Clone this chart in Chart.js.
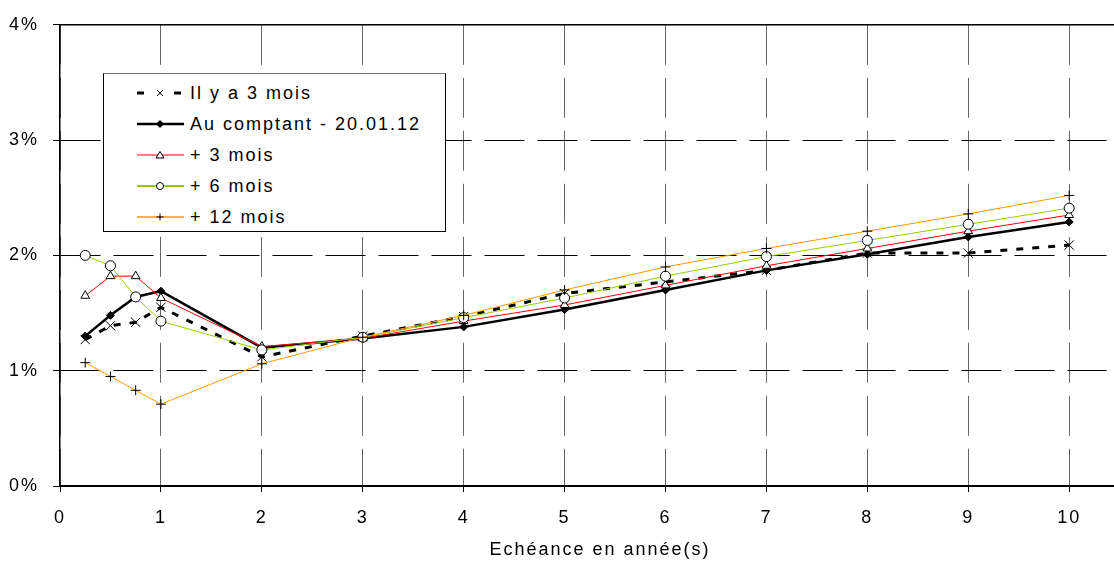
<!DOCTYPE html>
<html>
<head>
<meta charset="utf-8">
<script src="https://cdn.jsdelivr.net/npm/chart.js@4"></script>
<style>
  body { margin: 0; background: #fff; }
  #wrap { position: relative; width: 1114px; height: 563px; }
  #legend {
    position: absolute; left: 103px; top: 73px; width: 341px; height: 157px;
    border: 1px solid #000; border-top-color: #777; background: #fff;
    font: 18px "Liberation Sans", Arial, sans-serif; letter-spacing: 2px; color: #000;
  }
  .row { position: absolute; left: 0; width: 340px; height: 24px; }
  .row svg { position: absolute; left: 32px; top: 6px; }
  .row span { position: absolute; left: 86px; top: 0; line-height: 24px; white-space: nowrap; }
  #xtitle {
    position: absolute; left: 400px; width: 400px; top: 539px; line-height: 22px; text-align: center;
    font: 18px "Liberation Sans", Arial, sans-serif; letter-spacing: 2px; color: #000;
  }
</style>
</head>
<body>
<div id="wrap">
  <canvas id="curve" width="1114" height="563"></canvas>
  <div id="xtitle">Echéance en année(s)</div>
  <div id="legend">
    <div class="row" style="top:7px">
      <svg width="50" height="12"><line x1="1" y1="6" x2="8" y2="6" stroke="#000" stroke-width="3"/><path d="M21 3 L27 9 M27 3 L21 9" stroke="#000" stroke-width="1"/><line x1="38" y1="6" x2="45" y2="6" stroke="#000" stroke-width="3"/></svg>
      <span>Il y a 3 mois</span>
    </div>
    <div class="row" style="top:38px">
      <svg width="50" height="12"><line x1="1" y1="6" x2="48" y2="6" stroke="#000" stroke-width="2.5"/><path d="M24 2 L28 6 L24 10 L20 6 Z" fill="#000"/></svg>
      <span>Au comptant - 20.01.12</span>
    </div>
    <div class="row" style="top:69px">
      <svg width="50" height="12"><line x1="1" y1="6" x2="48" y2="6" stroke="#ff0000" stroke-width="1"/><path d="M24 2.5 L28 9 L20 9 Z" fill="#fff" stroke="#000" stroke-width="1"/></svg>
      <span>+ 3 mois</span>
    </div>
    <div class="row" style="top:100px">
      <svg width="50" height="12"><line x1="1" y1="6" x2="48" y2="6" stroke="#99cc00" stroke-width="2"/><circle cx="24" cy="6" r="3.5" fill="#fff" stroke="#000" stroke-width="1"/></svg>
      <span>+ 6 mois</span>
    </div>
    <div class="row" style="top:131px">
      <svg width="50" height="12"><line x1="1" y1="6" x2="48" y2="6" stroke="#ff9900" stroke-width="1.5"/><path d="M24 2.5 L24 9.5 M20.5 6 L27.5 6" stroke="#000" stroke-width="1"/></svg>
      <span>+ 12 mois</span>
    </div>
  </div>
</div>
<script>
// maturities in years
const maturities = [0.25, 0.5, 0.75, 1, 2, 3, 4, 5, 6, 7, 8, 9, 10];

// rates in %
const ilYa3Mois = [1.27, 1.39, 1.42, 1.55, 1.12, 1.30, 1.47, 1.67, 1.77, 1.87, 2.02, 2.02, 2.09];
const auComptant = [1.30, 1.48, 1.64, 1.69, 1.20, 1.28, 1.38, 1.53, 1.70, 1.87, 2.01, 2.16, 2.29];
const plus3Mois = [1.65, 1.82, 1.82, 1.63, 1.21, 1.28, 1.43, 1.57, 1.74, 1.91, 2.06, 2.21, 2.35];
const plus6Mois = [2.00, 1.91, 1.64, 1.43, 1.18, 1.29, 1.46, 1.63, 1.82, 1.99, 2.13, 2.27, 2.41];
const plus12Mois = [1.07, 0.95, 0.83, 0.71, 1.06, 1.29, 1.48, 1.70, 1.90, 2.06, 2.21, 2.36, 2.52];

const xTicks = [0, 1, 2, 3, 4, 5, 6, 7, 8, 9, 10];
const yTicks = [0, 1, 2, 3, 4];

const FONT = '"Liberation Sans", Arial, sans-serif';

function pts(values) {
  return values.map((v, i) => ({ x: maturities[i], y: v }));
}

// letter spacing for axis text + solid frame lines running to the right edge
const extras = {
  id: 'extras',
  beforeLayout(chart) { chart.ctx.letterSpacing = '2px'; },
  beforeDraw(chart) { chart.ctx.letterSpacing = '2px'; },
  afterDraw(chart) {
    const ctx = chart.ctx, a = chart.chartArea;
    ctx.save();
    ctx.strokeStyle = '#000';
    ctx.lineWidth = 1.5;
    ctx.beginPath();
    ctx.moveTo(a.left, a.top);
    ctx.lineTo(1114, a.top);
    ctx.stroke();
    ctx.lineWidth = 2;
    ctx.beginPath();
    ctx.moveTo(a.right - 2, Math.round(a.bottom));
    ctx.lineTo(1114, Math.round(a.bottom));
    ctx.stroke();
    ctx.restore();
  }
};

const ctx = document.getElementById('curve').getContext('2d');
const chart = new Chart(ctx, {
  type: 'line',
  data: {
    datasets: [
      {
        label: 'Il y a 3 mois', data: pts(ilYa3Mois), order: 5,
        borderColor: '#000', borderWidth: 3, borderDash: [7, 9],
        pointStyle: 'crossRot', pointRadius: 6.5, pointBorderColor: '#000', pointBorderWidth: 1
      },
      {
        label: 'Au comptant - 20.01.12', data: pts(auComptant), order: 4,
        borderColor: '#000', borderWidth: 2.5,
        pointStyle: 'rectRot', pointRadius: 4, pointBackgroundColor: '#000', pointBorderColor: '#000', pointBorderWidth: 1
      },
      {
        label: '+ 3 mois', data: pts(plus3Mois), order: 3,
        borderColor: '#ff0000', borderWidth: 1,
        pointStyle: 'triangle', pointRadius: 5, pointBackgroundColor: '#fff', pointBorderColor: '#000', pointBorderWidth: 1
      },
      {
        label: '+ 6 mois', data: pts(plus6Mois), order: 2,
        borderColor: '#99cc00', borderWidth: 1,
        pointStyle: 'circle', pointRadius: 5, pointBackgroundColor: '#fff', pointBorderColor: '#000', pointBorderWidth: 1
      },
      {
        label: '+ 12 mois', data: pts(plus12Mois), order: 1,
        borderColor: '#ff9900', borderWidth: 1,
        pointStyle: 'cross', pointRadius: 5, pointBorderColor: '#000', pointBorderWidth: 1
      }
    ]
  },
  options: {
    responsive: false,
    animation: false,
    layout: { padding: { top: 18, right: 0, left: 0, bottom: 0 } },
    plugins: { legend: { display: false }, tooltip: { enabled: false } },
    elements: { line: { tension: 0, fill: false } },
    scales: {
      x: {
        type: 'linear', min: 0, max: 10.37,
        afterFit(s) { s.height = 77; },
        afterBuildTicks(s) { s.ticks = xTicks.map(v => ({ value: v })); },
        ticks: { stepSize: 1, padding: 15, color: '#000', font: { family: FONT, size: 18 }, maxRotation: 0 },
        grid: { color: '#666', lineWidth: 1, tickColor: '#000', tickLength: 6 },
        border: { display: true, color: '#000', width: 2, dash: [40, 13] }
      },
      y: {
        min: 0, max: 4,
        afterFit(s) { s.width = 60; },
        afterBuildTicks(s) { s.ticks = yTicks.map(v => ({ value: v })); },
        ticks: { stepSize: 1, padding: 14, color: '#000', font: { family: FONT, size: 18 }, callback: v => v + '%' },
        grid: { color: '#000', lineWidth: 1, tickColor: '#000', tickLength: 7 },
        border: { display: true, color: '#000', width: 1.5, dash: [40, 13] }
      }
    }
  },
  plugins: [extras]
});
</script>
</body>
</html>
